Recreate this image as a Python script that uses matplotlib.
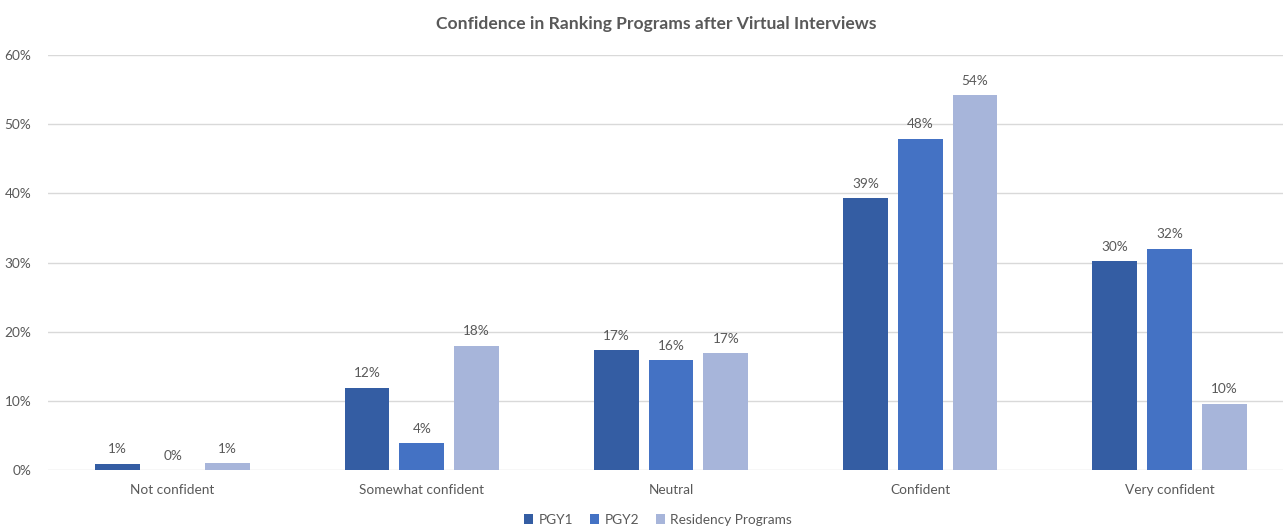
import matplotlib.pyplot as plt
import numpy as np
from matplotlib.ticker import PercentFormatter

categories = ["Not confident", "Somewhat confident", "Neutral", "Confident", "Very confident"]
series_names = ["PGY1", "PGY2", "Residency Programs"]
pgy1 = [0.9, 11.9, 17.3, 39.3, 30.2]
pgy2 = [0.0, 3.9, 15.9, 47.9, 32.0]
residency = [1.0, 18.0, 16.9, 54.2, 9.6]
colors = ["#345DA3", "#4472C4", "#A7B5DA"]

plt.rcParams['font.family'] = ['Lato', 'DejaVu Sans']
text_col = "#595959"

fig = plt.figure(figsize=(12.83, 5.26), dpi=100)
ax = fig.add_axes([48 / 1283, 1 - 470 / 526, 1246 / 1283, 415 / 526])

x = np.arange(len(categories))
width = 0.18
offset = 0.22
for i, (vals, name) in enumerate(zip([pgy1, pgy2, residency], series_names)):
    bars = ax.bar(x + (i - 1) * offset, vals, width, color=colors[i], label=name, zorder=3)
    for b, v in zip(bars, vals):
        ax.text(b.get_x() + b.get_width() / 2, v + 1.2, f"{v:.0f}%", ha='center', va='bottom',
                fontsize=9.8, color=text_col)

ax.set_xlim(-0.5, len(categories) - 0.5)
ax.set_ylim(0, 60)
ax.set_yticks(range(0, 61, 10))
ax.yaxis.set_major_formatter(PercentFormatter(decimals=0))
ax.set_xticks(x)
ax.set_xticklabels(categories)
ax.tick_params(axis='both', length=0, labelsize=9.8, labelcolor=text_col)
ax.tick_params(axis='y', pad=12)
ax.tick_params(axis='x', pad=10)
ax.grid(axis='y', color="#D9D9D9", linewidth=1, zorder=0)
for s in ax.spines.values():
    s.set_visible(False)

fig.text(656 / 1283, 1 - 24 / 526, "Confidence in Ranking Programs after Virtual Interviews",
         ha='center', va='center', fontsize=12.6, fontweight='bold', color=text_col)

ax.legend(loc='center', bbox_to_anchor=(658 / 1283, 1 - 520 / 526), bbox_transform=fig.transFigure,
          ncol=3, frameon=False, fontsize=9.8, handlelength=0.7, handleheight=0.7,
          handletextpad=0.4, columnspacing=1.2, labelcolor=text_col)

fig.savefig("out.png", dpi=100)
